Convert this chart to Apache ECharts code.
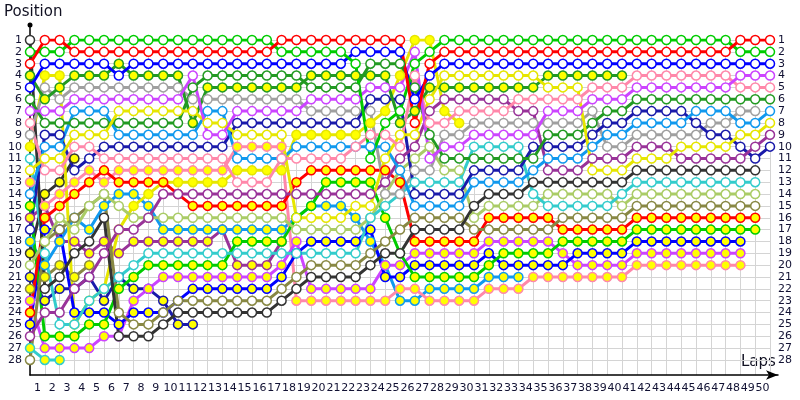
<!DOCTYPE html>
<html>
<head>
<meta charset="utf-8">
<title>Lap chart</title>
<script src="https://cdn.jsdelivr.net/npm/echarts@6/dist/echarts.min.js"></script>
<style>
  html, body { margin: 0; padding: 0; background: #ffffff; }
  #chart { width: 800px; height: 400px; }
</style>
</head>
<body>
<div id="chart"></div>
<script>
// tick labels
var lapLabels = ['1','2','3','4','5','6','7','8','9','10','11','12','13','14','15','16','17','18','19','20',
  '21','22','23','24','25','26','27','28','29','30','31','32','33','34','35','36','37','38','39','40',
  '41','42','43','44','45','46','47','48','49','50']
var positionTicks = [1,2,3,4,5,6,7,8,9,10,11,12,13,14,15,16,17,18,19,20,21,22,23,24,25,26,27,28]

// position of each car per column (column 0 = grid, then laps 1..50)
var posRed = [3,1,1,2,2,2,2,2,2,2, 2,2,2,2,2,2,2,1,1,1, 1,1,1,1,1,1,8,3,2,2, 2,2,2,2,2,2,2,2,2,2, 2,2,2,2,2,2,2,2,1,1, 1]
var posGreen = [2,2,2,1,1,1,1,1,1,1, 1,1,1,1,1,1,1,2,2,2, 2,2,3,11,8,7,3,2,1,1, 1,1,1,1,1,1,1,1,1,1, 1,1,1,1,1,1,1,1,2,2, 2]
var posBlue = [5,3,3,3,3,3,4,3,3,3, 3,3,3,3,3,3,3,3,3,3, 3,3,2,2,2,2,6,4,3,3, 3,3,3,3,3,3,3,3,3,3, 3,3,3,3,3,3,3,3,3,3, 3]
var posDkGreenF = [4,6,5,4,4,4,3,4,4,4, 4,8,5,5,5,5,5,5,5,4, 4,4,4,4,4,8,7,5,5,5, 5,5,5,5,5,4,4,4,4,4, 4]
var posDkGreen = [6,8,8,8,8,8,8,8,8,8, 8,5,4,4,4,4,4,4,4,5, 5,5,5,3,3,3,5,9,11,11, 11,11,11,11,11,9,9,9,8,7, 7,6,6,6,6,6,6,6,6,6, 6]
var posViolet = [7,7,7,6,6,6,6,6,6,6, 6,4,9,9,7,7,7,7,7,6, 6,6,6,5,5,5,2,11,10,10, 9,9,9,9,9,7,7,7,6,6, 6,5,5,5,5,5,5,5,4,4, 4]
var posGray = [9,5,6,5,5,5,5,5,5,5, 5,6,6,6,6,6,6,6,6,7, 7,7,7,7,14,14,12,12,9,9, 8,8,8,8,8,8,8,8,7,10, 10,9,9,9,9,9,8,8,7,7]
var posPink = [8,12,12,10,10,11,11,11,11,11, 11,11,11,11,13,13,13,11,11,11, 11,11,10,9,9,10,4,8,8,7, 7,7,7,6,6,6,6,6,5,5, 5,4,4,4,4,4,4,4,5,5, 5]
var posPurple = [26,24,24,22,21,19,17,17,16,14, 14,14,14,14,14,14,14,14,14,14, 14,14,14,14,13,11,10,7,6,6, 6,6,6,7,7,12,12,12,11,11, 11,10,10,10,11,11,11,11,11,10, 9]
var posNavy = [17,9,9,12,11,10,10,10,10,10, 10,10,10,10,8,8,8,8,8,8, 8,8,8,6,6,6,14,14,14,14, 12,12,12,12,10,10,10,10,9,8, 8,7,7,7,7,8,9,9,10,11, 10]
var posLtBlue = [14,10,10,7,7,7,9,9,9,9, 9,9,7,7,11,11,11,11,10,10, 10,10,10,10,10,12,15,15,15,15, 13,13,13,13,12,11,11,11,10,9, 9,8,8,8,8,7,7,7,8,8, 7]
var posYellow = [12,11,11,9,9,9,7,7,7,7, 7,7,8,8,9,9,9,9,16,16, 16,16,15,15,11,9,9,6,4,4, 4,4,4,4,4,5,5,5,12,12, 12,11,11,11,10,10,10,10,9,9, 8]
var posYellowF = [10,4,4,25,23,22,17,15,14,13, 13,13,13,13,12,12,12,12,9,9, 9,9,9,8,7,4,1,1,7,8]
var posRedF = [24,16,15,14,13,12,13,13,13,13, 14,15,15,15,15,15,15,15,13,12, 12,12,12,12,12,13,18,18,18,18, 18,16,16,16,16,16,17,17,17,17, 17,16,16,16,16,16,16,16,16,16]
var posPinkF = [13,15,14,13,12,13,12,12,12,12, 12,12,12,12,10,10,10,10,23,23, 23,23,23,23,23,22,22,23,23,23, 23,22,22,22,21,21,21,21,21,21, 21,20,20,20,20,20,20,20,20]
var posGreenF = [15,26,26,26,25,25,22,21,20,20, 20,20,20,20,18,18,18,18,16,15, 13,13,13,13,16,19,21,21,21,21, 21,20,19,19,19,19,18,18,18,18, 18,17,17,17,17,17,17,17,17,17]
var posBlueF = [25,17,17,24,24,24,25,24,24,24, 23,22,22,22,22,22,22,21,19,18, 18,18,18,17,21,21,20,20,20,20, 20,19,20,20,20,20,20,19,19,19, 19,18,18,18,18,18,18,18,18]
var posVioletF = [23,27,27,27,27,26,26,23,22,21, 21,21,21,21,21,21,21,20,18,22, 22,22,22,22,20,20,19,19,19,19, 19,18,18,18,18,18,19,20,20,20, 20,19,19,19,19,19,19,19,19]
var posCyan = [11,19,25,25,23,22,21,20,19,19, 19,19,19,19,19,19,19,19,19,19, 19,19,19,16,15,14,13,13,13,13, 10,10,10,10,14,15,15,15,15,15, 14,13,13,13,13,13,13,13,13,13]
var posDkGray = [1,22,21,19,18,16,26,26,26,25, 24,24,24,24,24,24,24,23,22,21, 21,21,21,20,19,19,17,17,17,17, 15,14,14,14,13,13,13,13,13,13, 13,12,12,12,12,12,12,12,12,12]
var posLtOlive = [20,18,16,17,15,14,15,16,16,16, 16,16,16,16,16,16,16,16,17,17, 17,17,17,16,14,12,11,10,12,12, 16,15,15,15,15,14,14,14,14,14, 15,14,14,14,14,14,14,14,14,14]
var posOlive = [28,18,17,16,15,14,24,25,25,24, 23,23,23,23,23,23,23,22,21,20, 20,20,20,19,18,17,16,16,16,16, 17,17,17,17,17,17,16,16,16,16, 16,15,15,15,15,15,15,15,15,15]
var posLtBlueF = [18,20,18,16,17,15,14,14,15,17, 17,17,17,17,17,17,17,17,16,15, 15,15,16,18,20,23,23,22,22,22, 22,21,21,21]
var posPurpleF = [16,15,18,18,19,18,19,18,18,18, 18,18,18,17,20,20,20,18]
var posNavyF = [21,23,22,22,21,23,21,22,22,23, 25,25]
var posCyanF = [27,28,28]
var posDkGrayF = [19,14,13,11]
var posOliveF = [22,21,20,21,20]

var cars = [
  { name: 'Olive F', color: '#888844', filled: true, pos: posOliveF },
  { name: 'Dark gray F', color: '#333333', filled: true, pos: posDkGrayF },
  { name: 'Cyan F', color: '#33cccc', filled: true, pos: posCyanF },
  { name: 'Navy F', color: '#1a1aaa', filled: true, pos: posNavyF },
  { name: 'Purple F', color: '#993399', filled: true, pos: posPurpleF },
  { name: 'Light blue F', color: '#1199ee', filled: true, pos: posLtBlueF },
  { name: 'Yellow F', color: '#e6e600', filled: true, pos: posYellowF },
  { name: 'Pink F', color: '#ff88aa', filled: true, pos: posPinkF },
  { name: 'Violet F', color: '#cc44ff', filled: true, pos: posVioletF },
  { name: 'Blue F', color: '#0000ff', filled: true, pos: posBlueF },
  { name: 'Green F', color: '#00cc00', filled: true, pos: posGreenF },
  { name: 'Red F', color: '#ff0000', filled: true, pos: posRedF },
  { name: 'Olive', color: '#888844', filled: false, pos: posOlive },
  { name: 'Light olive', color: '#aacc66', filled: false, pos: posLtOlive },
  { name: 'Cyan', color: '#33cccc', filled: false, pos: posCyan },
  { name: 'Dark gray', color: '#333333', filled: false, pos: posDkGray },
  { name: 'Gray', color: '#a0a0a0', filled: false, pos: posGray },
  { name: 'Navy', color: '#1a1aaa', filled: false, pos: posNavy },
  { name: 'Purple', color: '#993399', filled: false, pos: posPurple },
  { name: 'Light blue', color: '#1199ee', filled: false, pos: posLtBlue },
  { name: 'Dark green F', color: '#229a22', filled: true, pos: posDkGreenF },
  { name: 'Dark green', color: '#229a22', filled: false, pos: posDkGreen },
  { name: 'Yellow', color: '#e6e600', filled: false, pos: posYellow },
  { name: 'Pink', color: '#ff88aa', filled: false, pos: posPink },
  { name: 'Violet', color: '#cc44ff', filled: false, pos: posViolet },
  { name: 'Blue', color: '#0000ff', filled: false, pos: posBlue },
  { name: 'Green', color: '#00cc00', filled: false, pos: posGreen },
  { name: 'Red', color: '#ff0000', filled: false, pos: posRed }
]

var labelColor = '#111133'
var gridColor = '#d4d4d4'

var series = cars.map(function (car) {
  return {
    name: car.name,
    type: 'line',
    xAxisIndex: 0,
    yAxisIndex: 0,
    data: car.pos.map(function (p, i) { return [i, p] }),
    symbol: 'circle',
    symbolSize: 9,
    showAllSymbol: true,
    lineStyle: { color: car.color, width: 3 },
    itemStyle: {
      color: car.filled ? '#ffff00' : '#ffffff',
      borderColor: car.color,
      borderWidth: 1.5
    },
    emphasis: { disabled: true },
    silent: true
  }
})

var myChart = echarts.init(document.getElementById('chart'), null, { renderer: 'canvas' })
var option = {
  backgroundColor: '#ffffff',
  animation: false,
  textStyle: { fontFamily: 'DejaVu Sans' },
  grid: [
    { left: 30, right: 30, top: 40, bottom: 25 },
    { left: 30, right: 22, top: 25, bottom: 25 }
  ],
  xAxis: [
    {
      gridIndex: 0,
      type: 'value',
      min: 0,
      max: 50,
      interval: 1,
      axisLine: { show: false },
      axisTick: { show: false },
      axisLabel: { show: false },
      splitLine: { show: true, lineStyle: { color: gridColor, width: 1 } }
    },
    {
      gridIndex: 0,
      type: 'category',
      data: lapLabels,
      boundaryGap: true,
      position: 'bottom',
      axisLine: { show: false },
      axisTick: { show: false },
      splitLine: { show: false },
      axisLabel: { interval: 0, fontSize: 11, color: labelColor, margin: 8, fontFamily: 'DejaVu Sans' }
    },
    {
      gridIndex: 1,
      type: 'value',
      min: 0,
      max: 1,
      axisLine: {
        show: true,
        onZero: false,
        symbol: ['none', 'arrow'],
        symbolSize: [7, 12],
        lineStyle: { color: '#000000', width: 1.5 }
      },
      axisTick: { show: false },
      axisLabel: { show: false },
      splitLine: { show: false }
    }
  ],
  yAxis: [
    {
      gridIndex: 0,
      type: 'value',
      inverse: true,
      min: 1,
      max: 29.27,
      position: 'left',
      axisLine: { show: false },
      axisTick: { show: false, customValues: positionTicks },
      axisLabel: { customValues: positionTicks, fontSize: 11, color: labelColor, margin: 8, fontFamily: 'DejaVu Sans' },
      splitLine: { show: true, lineStyle: { color: gridColor, width: 1 } }
    },
    {
      gridIndex: 0,
      type: 'value',
      inverse: true,
      min: 1,
      max: 29.27,
      position: 'right',
      axisLine: { show: false },
      axisTick: { show: false, customValues: positionTicks },
      axisLabel: { customValues: positionTicks, fontSize: 11, color: labelColor, margin: 8, fontFamily: 'DejaVu Sans' },
      splitLine: { show: false }
    },
    {
      gridIndex: 1,
      type: 'value',
      min: 0,
      max: 1,
      axisLine: {
        show: true,
        onZero: false,
        symbol: ['none', 'circle'],
        symbolSize: [5, 5],
        lineStyle: { color: '#000000', width: 1.5 }
      },
      axisTick: { show: false },
      axisLabel: { show: false },
      splitLine: { show: false }
    }
  ],
  graphic: [
    { type: 'text', left: 4, top: 5, style: { text: 'Position', fontSize: 15, fill: '#111122', fontFamily: 'DejaVu Sans' } },
    { type: 'text', left: 741, top: 355, style: { text: 'Laps', fontSize: 15, fill: '#111122', fontFamily: 'DejaVu Sans' } }
  ],
  series: series
}
myChart.setOption(option, true)
window.addEventListener('resize', function () {
  myChart.resize()
})
</script>
</body>
</html>
